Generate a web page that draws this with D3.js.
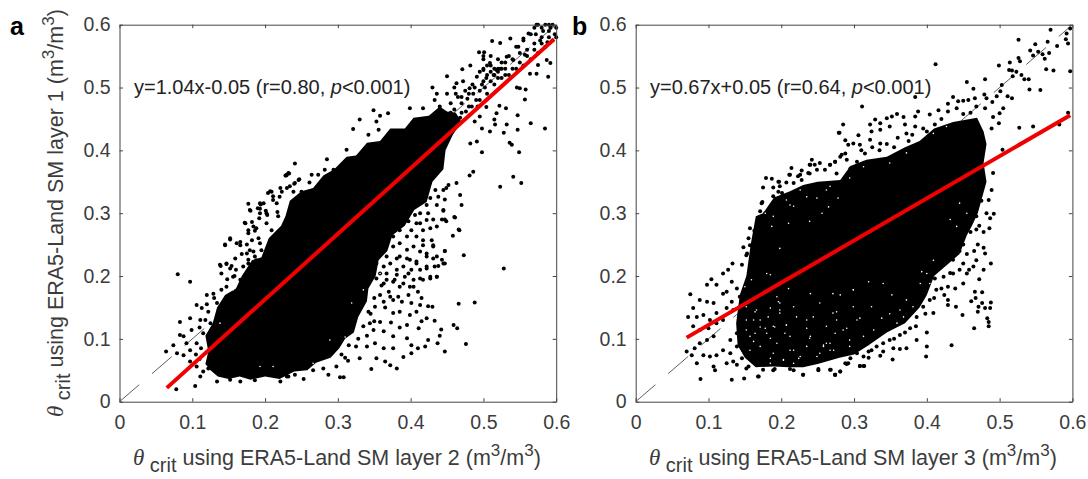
<!DOCTYPE html>
<html>
<head>
<meta charset="utf-8">
<script src="https://cdnjs.cloudflare.com/ajax/libs/d3/7.8.5/d3.min.js"></script>
<style>
  body { margin: 0; background: #fff; }
  svg { display: block; font-family: "Liberation Sans", Arial, sans-serif; }
</style>
</head>
<body>
<div id="chart"></div>
<script>
// valores leidos a ojo de la figura
const tickValues = [0, 0.1, 0.2, 0.3, 0.4, 0.5, 0.6];

// nucleo negro, donde los puntos se solapan y no se pueden leer uno a uno
const coreA = [[.135,.04],[.15,.036],[.165,.04],[.18,.035],[.2,.04],[.22,.036],[.24,.048],[.258,.05],[.27,.062],[.29,.07],[.302,.085],[.31,.1],[.322,.11],[.328,.135],[.34,.16],[.342,.18],[.352,.2],[.356,.225],[.368,.24],[.375,.265],[.392,.28],[.405,.305],[.422,.318],[.43,.35],[.445,.37],[.448,.4],[.458,.425],[.47,.445],[.462,.46],[.45,.462],[.44,.47],[.425,.455],[.404,.452],[.392,.435],[.372,.435],[.358,.415],[.34,.412],[.325,.392],[.312,.39],[.295,.37],[.28,.36],[.266,.34],[.25,.335],[.234,.32],[.228,.295],[.222,.28],[.205,.26],[.195,.23],[.182,.225],[.168,.2],[.16,.18],[.145,.17],[.134,.15],[.128,.125],[.118,.105],[.122,.08],[.118,.06],[.125,.05]];
const coreB = [[.165,.295],[.175,.3],[.19,.325],[.212,.335],[.23,.345],[.25,.35],[.281,.353],[.295,.375],[.317,.385],[.345,.39],[.37,.405],[.39,.415],[.41,.435],[.436,.445],[.469,.452],[.478,.43],[.482,.41],[.478,.38],[.482,.35],[.47,.3],[.462,.28],[.455,.265],[.445,.235],[.42,.21],[.41,.2],[.4,.17],[.39,.15],[.37,.125],[.345,.11],[.32,.09],[.30,.075],[.28,.07],[.25,.06],[.23,.055],[.21,.055],[.19,.056],[.165,.055],[.15,.07],[.14,.09],[.138,.125],[.143,.17],[.152,.2],[.158,.25]];

// puntos sueltos de los bordes
const pointsA = [
  [.5846,.435],[.565,.443],[.552,.348],[.541,.358],[.523,.342],[.549,.397],[.539,.409],[.536,.412],[.547,.433],[.532,.441],[.528,.428],[.516,.441],[.509,.430],[.498,.397],[.491,.414],[.482,.411],[.486,.366],[.481,.360],[.470,.313],[.468,.329],[.463,.348],[.445,.304],[.460,.294],[.466,.274],[.447,.29],[.547,.456],[.557,.481],[.550,.499],[.558,.497],[.546,.5],[.531,.467],[.522,.471],[.518,.459],[.504,.469],[.495,.454],[.488,.446],[.498,.435],[.515,.449],[.589,.517],[.573,.522],[.564,.522],[.592,.539],[.587,.544],[.575,.536],[.557,.552],[.537,.578],[.523,.571],[.512,.574],[.501,.556],[.494,.556],[.471,.529],[.482,.535],[.450,.518],[.430,.5],[.436,.49],[.433,.48],[.417,.467],[.399,.467],[.369,.459],[.358,.455],[.349,.464],[.330,.449],[.321,.434],[.353,.446],[.356,.433],[.342,.425],[.312,.401],[.285,.386],[.241,.379],[.230,.361],[.241,.348],[.282,.369],[.294,.369],[.273,.361],[.264,.361],
  [.463,.507],[.472,.51],[.481,.499],[.491,.517],[.500,.528],[.509,.539],[.518,.528],[.504,.515],[.514,.52],[.523,.53],[.532,.549],[.541,.544],[.548,.565],[.555,.578],[.562,.586],[.573,.6],
  [.44,.47],[.45,.49],[.455,.475],[.46,.50],[.465,.485],[.47,.46],[.475,.495],[.48,.47],[.485,.505],[.49,.48],[.495,.495],[.50,.51],[.505,.49],[.51,.525],[.515,.505],[.52,.53],[.525,.515],[.53,.54],[.535,.52],[.54,.545],[.545,.53],[.55,.555],[.555,.535],[.56,.56],[.565,.545],[.57,.57],[.575,.555],[.58,.58],[.585,.565],[.59,.59],[.595,.575],[.6,.595],[.57,.595],[.575,.6],[.58,.595],[.585,.6],[.59,.6],[.595,.6],[.6,.58],[.565,.585],[.555,.575],[.545,.565],[.535,.55],[.525,.54],[.515,.53],[.505,.535],[.495,.525],[.50,.545],[.50,.53],[.505,.52],[.51,.535],[.515,.52],[.52,.525],[.525,.53],[.53,.53],[.52,.545],[.51,.55],[.50,.55],
  [.47,.475],[.478,.482],[.486,.49],[.46,.465],[.468,.452],[.476,.462],[.484,.47],[.492,.47],[.455,.46],[.462,.49],[.47,.485],[.48,.49],[.488,.5],[.498,.505],[.495,.48],[.502,.5],[.51,.51],[.52,.515],[.53,.52],[.54,.53],[.55,.54],[.56,.55],[.57,.56],[.58,.57],[.59,.58],[.572,.585],[.582,.59],[.592,.595],[.578,.575],[.588,.572],[.598,.585],
  [.528,.212],[.473,.233],[.447,.24],[.488,.158],[.466,.156],[.459,.122],[.464,.117],[.476,.092],[.447,.08],[.442,.115],[.44,.105],[.437,.093],[.433,.129],[.43,.151],[.424,.152],[.422,.133],[.415,.128],[.411,.117],[.395,.122],[.385,.118],[.373,.126],[.424,.098],[.42,.088],[.41,.085],[.401,.077],[.39,.071],[.381,.053],[.372,.058],[.365,.064],[.346,.052],[.353,.069],[.33,.069],[.314,.065],[.308,.039],[.303,.039],[.287,.043],[.253,.036],[.241,.043],[.232,.04],[.266,.05],[.298,.056],[.28,.053],[.34,.088],[.351,.093],[.363,.085],[.376,.085],[.395,.101],[.401,.09],[.376,.104],[.363,.112],[.349,.114],[.344,.125],[.358,.127],[.376,.141],[.385,.143],[.399,.138],[.408,.143],[.413,.154],[.401,.157],[.388,.159],[.376,.162],[.363,.159],[.351,.151],[.342,.143],[.358,.17],[.372,.167],[.383,.167],[.397,.17],[.41,.175],[.415,.165],[.404,.183],[.39,.188],[.376,.191],[.363,.188],[.353,.196],[.367,.204],[.381,.202],[.397,.204],[.413,.196],[.427,.196],[.436,.199],[.422,.212],[.433,.215],[.445,.22],[.408,.22],[.395,.228],[.381,.228],[.367,.231],[.422,.236],[.436,.231],[.431,.249],[.417,.249],
  [.447,.24],[.461,.293],[.467,.273],[.458,.264],[.449,.287],[.443,.29],[.445,.305],[.447,.322],[.449,.34],[.452,.345],[.436,.199],[.443,.226],[.447,.22],[.438,.216],[.431,.228],[.431,.247],[.422,.231],[.429,.257],[.427,.276],[.436,.279],[.431,.29],[.422,.289],[.413,.284],[.424,.3],[.436,.313],[.438,.326],[.445,.337],[.417,.273],[.408,.263],[.417,.257],[.404,.247],[.413,.239],[.395,.242],[.399,.226],[.385,.231],[.390,.215],[.408,.223],[.422,.215],[.413,.21],[.401,.21],[.392,.199],[.381,.21],[.372,.22],[.363,.215],[.353,.22],[.358,.204],[.367,.194],[.378,.194],[.404,.194],[.417,.194],[.427,.199],[.385,.183],[.399,.183],[.376,.247],[.385,.252],[.395,.263],[.401,.273],[.408,.284],[.413,.3],[.422,.313],[.427,.324],[.434,.337],[.367,.252],[.376,.263],[.385,.273],[.397,.287],[.406,.297],
  [.305,.075],[.315,.09],[.328,.1],[.335,.12],[.345,.14],[.35,.165],[.36,.185],[.31,.07],[.325,.088],[.34,.105],[.35,.128],[.365,.15],[.37,.175],
  [.08,.203],[.097,.191],[.064,.08],[.078,.02],[.104,.025],[.074,.09],[.083,.127],[.083,.106],[.097,.133],[.106,.154],[.113,.149],[.12,.17],[.129,.172],[.138,.218],[.147,.22],[.14,.204],[.152,.212],[.156,.199],[.145,.249],[.166,.249],[.175,.236],[.184,.239],[.193,.252],[.177,.22],[.188,.225],[.166,.194],[.147,.183],[.134,.157],[.122,.143],[.111,.13],[.099,.114],[.088,.104],[.092,.093],[.079,.077],[.088,.074],[.097,.082],[.106,.093],[.115,.109],[.125,.125],[.134,.135],[.097,.064],[.106,.056],[.111,.04],[.115,.048],[.122,.053],[.134,.032],[.152,.035],[.166,.032],[.186,.034],[.221,.032],[.23,.04],
  [.232,.364],[.228,.36],[.177,.315],[.193,.316],[.207,.335],[.221,.34],[.234,.343],[.246,.353],[.179,.305],[.172,.285],[.19,.308],[.202,.3],[.184,.279],[.152,.26],[.211,.327],
  [.233,.363],[.229,.36],[.247,.354],[.24,.347],[.261,.349],[.204,.332],[.209,.334],[.18,.304],[.194,.314],[.198,.316],[.193,.307],[.193,.3],[.192,.292],[.173,.284],[.182,.286],[.201,.304],[.203,.297],[.217,.302],[.218,.295],[.177,.273],[.188,.276],[.177,.268],[.186,.272],[.145,.25],[.152,.258],[.161,.252],[.166,.254],[.175,.25],[.182,.257],[.191,.26],[.159,.228],[.168,.235],[.139,.216],[.147,.219],[.154,.216],[.179,.241],[.186,.231],[.177,.226],[.195,.241],[.202,.284],[.209,.273],[.223,.334],[.23,.34],[.239,.334],[.25,.334],[.257,.332],[.211,.321],[.22,.326],[.216,.316],
  [.16,.21],[.17,.215],[.148,.195],[.158,.2],[.14,.178],[.13,.165],[.12,.155],[.11,.118],[.118,.13],[.105,.075],[.11,.068],[.112,.085]
];
const pointsB = [
  [.570,.592],[.597,.594],[.592,.586],[.526,.576],[.591,.577],[.594,.570],[.579,.566],[.566,.573],[.549,.569],[.542,.559],[.553,.557],[.559,.553],[.546,.551],[.568,.555],[.562,.546],[.526,.547],[.528,.542],[.514,.54],[.499,.535],[.513,.528],[.517,.527],[.523,.525],[.518,.518],[.530,.52],[.534,.513],[.540,.513],[.564,.529],[.574,.527],[.597,.526],[.541,.497],[.556,.496],[.480,.513],[.455,.509],[.464,.498],[.503,.504],[.501,.494],[.479,.489],[.482,.483],[.496,.486],[.511,.486],[.517,.483],[.490,.477],[.480,.467],[.505,.467],[.500,.459],[.491,.453],[.499,.443],[.489,.435],[.412,.537],[.384,.485],[.311,.470],[.436,.485],[.443,.478],[.450,.479],[.457,.48],[.466,.483],[.429,.474],[.285,.441],[.279,.428],[.306,.424],[.288,.416],[.527,.436],[.546,.438],[.582,.441],[.594,.46],[.504,.401],[.491,.364],[.487,.292],[.492,.299],[.486,.276],
  [.388,.462],[.416,.464],[.329,.449],[.345,.451],[.352,.454],[.359,.458],[.368,.453],[.384,.454],[.404,.457],[.336,.443],[.322,.441],[.324,.43],[.349,.438],[.370,.441],[.299,.411],[.292,.409],[.274,.382],[.267,.377],[.283,.393],[.308,.409],[.336,.433],[.322,.417],[.336,.411],[.372,.427],[.384,.438],[.395,.435],[.411,.441],[.429,.462],[.441,.467],[.468,.47],
  [.31,.4],[.325,.405],[.345,.41],[.36,.42],[.38,.425],[.4,.43],[.42,.45],[.45,.458],[.46,.46],[.315,.395],[.335,.4],[.355,.405],[.375,.415],
  [.242,.385],[.214,.372],[.179,.356],[.187,.355],[.175,.341],[.196,.35],[.207,.349],[.226,.361],[.237,.364],[.253,.38],[.274,.382],[.281,.39],[.280,.428],[.157,.276],[.164,.272],[.155,.26],[.173,.316],[.171,.303],[.173,.287],[.189,.327],[.198,.343],[.212,.361],[.24,.377],
  [.239,.377],[.211,.361],[.228,.368],[.223,.359],[.239,.363],[.246,.377],[.267,.377],[.288,.395],[.29,.385],[.197,.35],[.189,.341],[.217,.348],[.228,.353],[.196,.334],[.174,.318],[.178,.3],[.201,.332],[.148,.246],[.153,.236],[.163,.272],[.166,.265],[.171,.284],[.18,.287],[.175,.273],[.185,.31],[.249,.369],[.26,.369],[.276,.363],[.295,.371],[.304,.382],
  [.075,.171],[.072,.135],[.070,.08],[.077,.074],[.084,.061],[.089,.036],[.132,.035],[.149,.037],[.168,.04],[.104,.195],[.098,.186],[.111,.186],[.120,.204],[.133,.22],[.127,.21],[.132,.191],[.146,.218],[.152,.233],[.157,.249],[.107,.056],[.109,.05],[.125,.061],[.139,.059],[.152,.053],[.23,.043],[.217,.05],[.189,.05],[.274,.043],[.251,.05],
  [.079,.149],[.088,.162],[.098,.159],[.107,.157],[.084,.135],[.093,.138],[.102,.13],[.111,.141],[.12,.172],[.125,.175],[.139,.18],[.143,.167],[.132,.159],[.125,.149],[.134,.146],[.079,.12],[.088,.114],[.1,.117],[.111,.125],[.12,.13],[.088,.093],[.098,.098],[.107,.104],[.081,.085],[.093,.074],[.102,.072],[.111,.074],[.12,.082],[.13,.077],[.139,.088],[.13,.098],[.139,.109],[.148,.13],[.152,.114],[.148,.093],[.157,.077],[.146,.069],[.134,.064],
  [.169,.04],[.155,.056],[.175,.051],[.191,.052],[.212,.052],[.23,.043],[.251,.052],[.267,.051],[.281,.048],[.274,.043],[.288,.061],[.292,.061],[.308,.057],[.314,.057],[.304,.077],[.32,.08],[.295,.069],
  [.488,.22],[.48,.236],[.478,.21],[.472,.195],[.466,.175],[.476,.174],[.467,.165],[.461,.16],[.488,.158],[.476,.157],[.471,.151],[.47,.143],[.487,.149],[.48,.149],[.483,.133],[.485,.127],[.485,.12],[.465,.117],[.449,.138],[.44,.151],[.429,.154],[.429,.162],[.424,.17],[.434,.09],[.4,.088],[.399,.072],[.409,.141],[.4,.11],[.386,.098],[.372,.085],[.363,.084],[.354,.085],[.353,.067],[.336,.073],[.324,.082],[.313,.072],[.308,.057],[.313,.057],[.29,.06],[.281,.048],[.274,.043],[.268,.051],[.436,.204],[.45,.188],[.439,.18],[.429,.183],[.423,.199],[.455,.204],[.464,.215],[.468,.225],[.45,.22],[.436,.226],[.425,.22],[.413,.212],[.411,.196],[.413,.178],[.404,.162],[.395,.151],[.386,.135],[.377,.117],[.363,.106],[.349,.098],[.34,.093],[.331,.088],
  [.489,.337],[.485,.321],[.468,.295],[.455,.29],[.445,.274],[.468,.274],
  [.45,.25],[.46,.27],[.47,.25],[.478,.245],[.465,.24],[.455,.235],[.445,.24],[.472,.28],[.46,.3],[.478,.27],[.482,.3],[.475,.32],[.458,.21],[.445,.21],[.432,.205],[.42,.18],[.41,.165],[.398,.14],[.385,.12],[.37,.11],[.355,.1],[.34,.08],[.32,.07]
];

// huecos blancos dentro del nucleo
const gapsA = [[.358,.204],[.349,.188],[.328,.125],[.31,.103],[.289,.098],[.266,.061],[.319,.157],[.335,.178],[.45,.396],[.44,.358],[.429,.316],[.422,.279],[.436,.3],[.156,.178],[.138,.125],[.211,.056],[.193,.056]];
const gapsB = [[.198,.157],[.194,.167],[.162,.162],[.18,.204],[.152,.13],[.157,.104],[.189,.12],[.207,.122],[.217,.082],[.24,.104],[.258,.088],[.226,.072],[.171,.088],[.189,.077],[.276,.13],[.198,.146],[.217,.151],[.235,.117],[.253,.077],[.267,.093],[.18,.109],[.171,.13],[.166,.146],[.182,.135],[.212,.104],[.194,.093],[.235,.088],[.249,.072],[.203,.067],[.185,.202],[.24,.172],[.221,.135],[.262,.12],[.244,.135],[.185,.061],[.217,.061],
  [.271,.172],[.299,.178],[.324,.151],[.338,.133],[.308,.133],[.276,.143],[.262,.093],[.285,.114],[.313,.104],[.327,.114],[.349,.14],[.363,.146],[.372,.162],[.391,.188],[.393,.207],[.359,.125],[.34,.188],[.32,.191],[.352,.17],[.294,.088],[.272,.082],[.368,.135],[.381,.151],[.4,.204],[.409,.225],[.404,.188],
  [.294,.356],[.331,.406],[.349,.38],[.313,.374],[.432,.29],[.441,.279],[.455,.3],[.445,.316],[.409,.427],[.427,.438],[.372,.396],[.267,.343],[.217,.311],[.189,.295],[.178,.3],[.249,.324],[.226,.337],[.262,.337],[.207,.321],
  [.212,.313],[.198,.244],[.21,.284],[.265,.31],[.187,.279],[.239,.287],[.256,.3],[.278,.324],[.235,.326],
  [.152,.151],[.164,.143],[.162,.13],[.152,.114],[.164,.109],[.185,.149],[.196,.159],[.198,.141],[.191,.119],[.207,.122],[.205,.109],[.185,.101],[.162,.096],[.212,.082],[.224,.069],[.239,.101],[.235,.13],[.258,.09],[.274,.109],[.29,.117],[.304,.13],[.299,.151],[.271,.141],[.253,.157],[.281,.17],[.299,.178],[.21,.18],[.15,.183],[.159,.194],[.145,.077],[.157,.082],[.185,.069],[.203,.066],[.294,.098],[.315,.077],[.267,.082],[.171,.119],[.178,.117]];

const fitA = [[.065,.022],[.597,.577]];
const fitB = [[.070,.102],[.597,.456]];

const panels = [
  { letter: "a", letterX: 10, left: 119.5, core: coreA, points: pointsA, gaps: gapsA, fit: fitA, eq: "y=1.04x-0.05 (r=0.80, ", eqX: 134, layer: 2, xLabelX: 133 },
  { letter: "b", letterX: 572, left: 635.7, core: coreB, points: pointsB, gaps: gapsB, fit: fitB, eq: "y=0.67x+0.05 (r=0.64, ", eqX: 650, layer: 3, xLabelX: 649 }
];

const width = 1088, height = 479;
const plotTop = 24.7, plotBottom = 401.7, panelW = 436.7;
const ink = "#3c3c3c";

const svg = d3.select("#chart").append("svg")
  .attr("width", width).attr("height", height);

// texto con theta_crit y superindices
function labelParts(sel, layerTxt) {
  sel.append("tspan").attr("font-family", "Liberation Serif").attr("font-style", "italic").attr("font-size", 23).text("θ");
  sel.append("tspan").attr("dy", 7).attr("font-size", 20).text(" crit");
  sel.append("tspan").attr("dy", -7).text(" using ERA5-Land SM layer " + layerTxt + " (m");
  sel.append("tspan").attr("dy", -9).attr("font-size", 17).text("3");
  sel.append("tspan").attr("dy", 9).text("/m");
  sel.append("tspan").attr("dy", -9).attr("font-size", 17).text("3");
  sel.append("tspan").attr("dy", 9).text(")");
}

panels.forEach(p => {
  const x = d3.scaleLinear().domain([0, 0.6]).range([p.left, p.left + panelW]);
  const y = d3.scaleLinear().domain([0, 0.6]).range([plotBottom, plotTop]);
  const g = svg.append("g");

  // linea 1:1
  g.append("line")
    .attr("x1", x(0)).attr("y1", y(0)).attr("x2", x(0.6)).attr("y2", y(0.6))
    .attr("stroke", "#333").attr("stroke-width", 0.8).attr("stroke-dasharray", "26,17");

  const line = d3.line().x(d => x(d[0])).y(d => y(d[1])).curve(d3.curveLinearClosed);
  g.append("path").attr("d", line(p.core)).attr("fill", "#000");

  g.selectAll("circle.pt").data(p.points).enter().append("circle")
    .attr("class", "pt")
    .attr("cx", d => x(d[0])).attr("cy", d => y(d[1])).attr("r", 2).attr("fill", "#000");

  g.selectAll("circle.gap").data(p.gaps).enter().append("circle")
    .attr("class", "gap")
    .attr("cx", d => x(d[0])).attr("cy", d => y(d[1])).attr("r", 0.8).attr("fill", "#fff");

  // ejes, con la caja completa como en matlab
  const axes = [
    [d3.axisBottom(x), 0, plotBottom, true, 13.5],
    [d3.axisLeft(y), p.left, 0, true, 9],
    [d3.axisTop(x), 0, plotTop, false, 0],
    [d3.axisRight(y), p.left + panelW, 0, false, 0]
  ];
  axes.forEach(([axis, tx, ty, labels, pad]) => {
    axis.tickValues(tickValues).tickSize(-3.5).tickSizeOuter(0)
      .tickPadding(pad)
      .tickFormat(d => labels ? String(d) : "");
    const a = g.append("g").attr("transform", `translate(${tx},${ty})`).call(axis);
    a.selectAll("path").attr("stroke", "#444");
    a.selectAll("line").attr("stroke", "#444");
    a.selectAll("text").attr("font-size", 19.5).attr("font-family", "Liberation Sans").attr("fill", ink);
  });

  g.append("line")
    .attr("x1", x(p.fit[0][0])).attr("y1", y(p.fit[0][1]))
    .attr("x2", x(p.fit[1][0])).attr("y2", y(p.fit[1][1]))
    .attr("stroke", "#f00000").attr("stroke-width", 4);

  const eq = g.append("text").attr("x", p.eqX).attr("y", 94)
    .attr("font-size", 20).attr("fill", "#222");
  eq.append("tspan").text(p.eq);
  eq.append("tspan").attr("font-style", "italic").text("p");
  eq.append("tspan").text("<0.001)");

  g.append("text").attr("x", p.letterX).attr("y", 35)
    .attr("font-size", 25).attr("font-weight", "bold").attr("fill", "#000").text(p.letter);

  const xl = g.append("text").attr("x", p.xLabelX).attr("y", 465)
    .attr("font-size", 21.5).attr("fill", ink);
  labelParts(xl, p.layer);
});

// etiqueta y solo en el panel a
const yl = svg.append("text")
  .attr("transform", "translate(63,417) rotate(-90)")
  .attr("font-size", 21.5).attr("fill", ink);
labelParts(yl, 1);
</script>
</body>
</html>
